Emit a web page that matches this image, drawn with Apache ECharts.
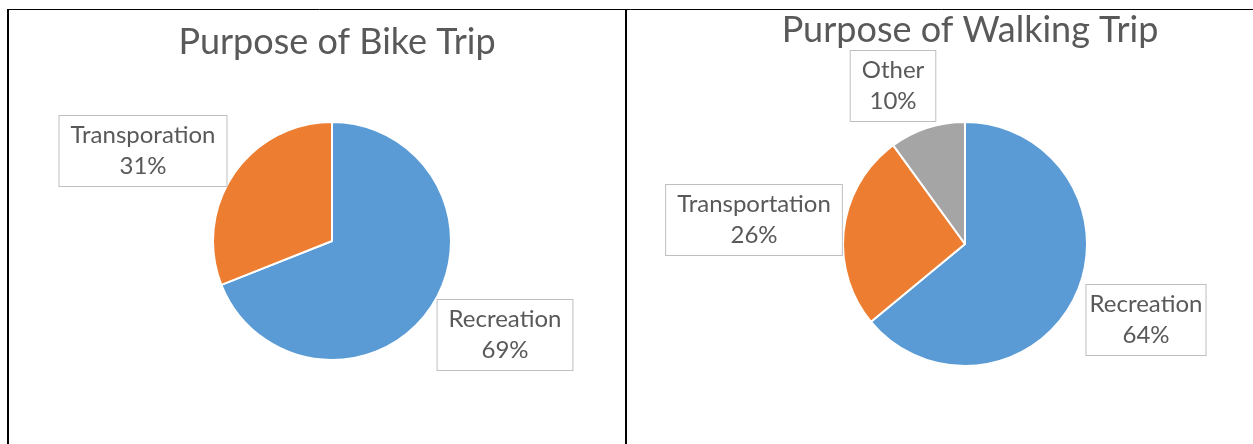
<!DOCTYPE html>
<html><head><meta charset="utf-8">
<script src="https://cdn.jsdelivr.net/npm/echarts@6/dist/echarts.min.js"></script>
<style>html,body{margin:0;padding:0;background:#fff}#c{width:1253px;height:444px}</style>
</head><body><div id="c"></div>
<script>
const bikeCategories = ['Recreation', 'Transporation'];
const bikeValues = [69, 31];
const walkCategories = ['Recreation', 'Transportation', 'Other'];
const walkValues = [64, 26, 10];
const titles = ['Purpose of Bike Trip', 'Purpose of Walking Trip'];
const colors = { Recreation: '#5b9bd5', Transporation: '#ed7d31', Transportation: '#ed7d31', Other: '#a5a5a5' };

// label box centres (layout only)
const bikeLabelPos = [[505, 335], [143, 151]];
const walkLabelPos = [[1146, 320], [754, 220], [893, 86]];

const chart = echarts.init(document.getElementById('c'));
const font = 'Lato, "Open Sans", sans-serif';
function mk(cats, vals) {
  return cats.map((c, i) => ({ name: c, value: vals[i], itemStyle: { color: colors[c] } }));
}
const labelStyle = {
  show: true,
  formatter: p => p.name + '\n' + p.value + '%',
  fontFamily: font, fontSize: 24, color: '#595959', lineHeight: 31,
  backgroundColor: '#fff', borderColor: '#bfbfbf', borderWidth: 1,
  padding: [4, 11], align: 'center', overflow: 'none'
};
chart.setOption({
  animation: false,
  title: [
    { text: titles[0], left: 332, top: 19, textAlign: 'center',
      textStyle: { fontFamily: font, fontSize: 36, fontWeight: 'normal', color: '#595959' } },
    { text: titles[1], left: 965, top: 7, textAlign: 'center',
      textStyle: { fontFamily: font, fontSize: 36, fontWeight: 'normal', color: '#595959' } }
  ],
  graphic: [
    { type: 'line', shape: { x1: 8, y1: 9.5, x2: 1253, y2: 9.5 }, style: { stroke: '#000', lineWidth: 1 } },
    { type: 'rect', shape: { x: 7, y: 9, width: 2, height: 440 }, style: { fill: '#000' } },
    { type: 'rect', shape: { x: 625, y: 9, width: 2, height: 440 }, style: { fill: '#000' } }
  ],
  series: [
    { type: 'pie', center: [332, 241], radius: 119, startAngle: 90, clockwise: true,
      itemStyle: { borderColor: '#fff', borderWidth: 2 },
      label: labelStyle, labelLine: { show: false },
      labelLayout: p => ({ x: bikeLabelPos[p.dataIndex][0], y: bikeLabelPos[p.dataIndex][1], align: 'center', verticalAlign: 'middle' }),
      data: mk(bikeCategories, bikeValues) },
    { type: 'pie', center: [965, 244], radius: 122, startAngle: 90, clockwise: true,
      itemStyle: { borderColor: '#fff', borderWidth: 2 },
      label: labelStyle, labelLine: { show: false },
      labelLayout: p => ({ x: walkLabelPos[p.dataIndex][0], y: walkLabelPos[p.dataIndex][1], align: 'center', verticalAlign: 'middle' }),
      data: mk(walkCategories, walkValues) }
  ]
});
</script></body></html>
